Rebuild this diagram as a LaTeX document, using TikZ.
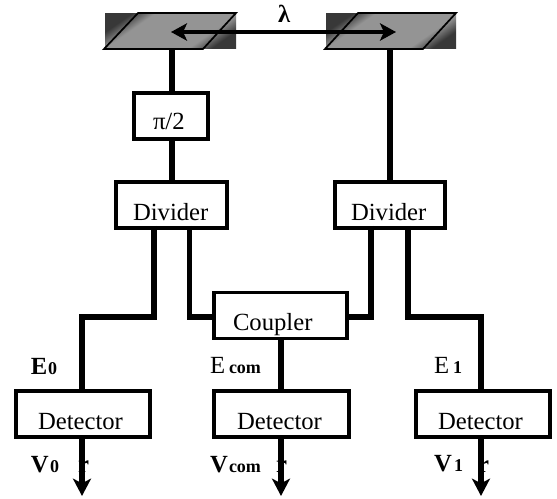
\documentclass[tikz,border=0pt]{standalone}
\usepackage{fontspec}
\setmainfont{Liberation Serif}
\usetikzlibrary{arrows.meta,calc}
\pgfdeclarehorizontalshading{mirrorshade}{100bp}{color(0bp)=(black!78); color(25bp)=(black!78); color(34bp)=(black!42); color(66bp)=(black!42); color(75bp)=(black!78); color(100bp)=(black!78)}
\begin{document}
\begin{tikzpicture}[x=0.75pt,y=-0.75pt,
  boxstyle/.style={draw=black,line width=2.9pt,fill=white,outer sep=0pt,inner sep=0pt,minimum height=34.5pt},
  wire/.style={draw=black,line width=3.9pt,line cap=butt,line join=miter},
  downarrow/.style={wire,-{Stealth[length=13pt,width=13.5pt,inset=3.5pt]}},
  biarrow/.style={draw=black,line width=3pt,{Stealth[length=12pt,width=13pt,inset=3pt]}-{Stealth[length=12pt,width=13pt,inset=3pt]}},
  mirrorback/.style={shading=mirrorshade,shading angle=-55},
  mirrorface/.style={draw=black,line width=1.3pt,line join=miter},
  boxlabel/.style={anchor=base west,inner sep=0pt,outer sep=0pt,font=\fontsize{18.5pt}{20pt}\selectfont},
  sig/.style={anchor=base west,inner sep=0pt,outer sep=0pt,font=\fontsize{18.5pt}{20pt}\selectfont},
  sigb/.style={anchor=base west,inner sep=0pt,outer sep=0pt,font=\bfseries\fontsize{18.5pt}{20pt}\selectfont},
  sub/.style={anchor=base west,inner sep=0pt,outer sep=0pt,font=\bfseries\fontsize{13.5pt}{15pt}\selectfont},
  stray/.style={anchor=base west,inner sep=0pt,outer sep=0pt,font=\bfseries\fontsize{18.5pt}{20pt}\selectfont}]
\useasboundingbox (0,0) rectangle (557,499);
\fill[white] (0,0) rectangle (557,499);
% mirrors
\shade[mirrorback] (105,14) rectangle (236,49);
\shade[mirrorback] (326,14) rectangle (456,49);
\node[inner sep=0pt,outer sep=0pt,minimum size=0pt] (mirrorA) at (172,49) {};
\node[inner sep=0pt,outer sep=0pt,minimum size=0pt] (mirrorB) at (390,49) {};
\node[inner sep=0pt,outer sep=0pt,minimum size=0pt] (lamA) at (171,32) {};
\node[inner sep=0pt,outer sep=0pt,minimum size=0pt] (lamB) at (396,32) {};
\draw[mirrorface] (104,49) -- (138,13) -- (236,13) -- (203,49) -- cycle;
\draw[mirrorface] (325,49) -- (358,13) -- (456,13) -- (423,49) -- cycle;
% boxes
\node[boxstyle,minimum width=55.5pt] (phase) at (171,116) {};
\node[boxstyle,minimum width=83pt] (divA) at (171.5,205) {};
\node[boxstyle,minimum width=83pt] (divB) at (390,205) {};
\node[boxstyle,minimum width=100pt] (coupler) at (280.5,315.5) {};
\node[boxstyle,minimum width=101pt] (detA) at (83,414) {};
\node[boxstyle,minimum width=101pt] (detC) at (281.5,414) {};
\node[boxstyle,minimum width=101pt] (detB) at (483,414) {};
% stray glyphs behind the output arrows
\node[stray] (strayA) at (78,472) {r};
\node[stray] (strayC) at (276,472) {r};
\node[stray] (strayB) at (478,472) {r};
% free ends
\coordinate (endA) at (82,496);
\coordinate (endC) at (281,496);
\coordinate (endB) at (481,496);
% connectors
\draw[wire] (mirrorA) -- (phase.north -| mirrorA);
\draw[wire] (phase.south -| mirrorA) -- (divA.north -| mirrorA);
\draw[wire] (mirrorB) -- (divB.north -| mirrorB);
\draw[wire] ($(divA.south)+(-17.5,-2)$) |- (82,317) -- (detA.north -| 82,0);
\draw[wire] ($(divA.south)+(18,-2)$) |- (coupler.west |- 0,317);
\draw[wire] ($(divB.south)+(-19,-2)$) |- (coupler.east |- 0,317);
\draw[wire] ($(divB.south)+(18,-2)$) |- (481,317) -- (detB.north -| 481,0);
\draw[wire] (coupler.south -| endC) -- (detC.north -| endC);
\draw[downarrow] (detA.south -| endA) -- (endA);
\draw[downarrow] (detC.south -| endC) -- (endC);
\draw[downarrow] (detB.south -| endB) -- (endB);
\draw[biarrow] (lamA) -- (lamB);
% labels
\node[sigb] (lambda) at (278,23) {λ};
\node[boxlabel] (phaseT) at (153,130) {π/2};
\node[boxlabel] (divAT) at (133,220) {Divider};
\node[boxlabel] (divBT) at (351,220) {Divider};
\node[boxlabel] (coupT) at (233,330) {Coupler};
\node[boxlabel] (detAT) at (38,429) {Detector};
\node[boxlabel] (detCT) at (237,429) {Detector};
\node[boxlabel] (detBT) at (438,429) {Detector};
\node[sigb] (e0) at (31,374) {E};
\node[sub] (e0s) at (48,374) {0};
\node[sig] (ec) at (210,373) {E};
\node[sub] (ecs) at (229,373) {com};
\node[sig] (e1) at (434,373) {E};
\node[sub] (e1s) at (453,373) {1};
\node[sigb] (v0) at (31,472) {V};
\node[sub] (v0s) at (50,472) {0};
\node[sigb] (vc) at (210,472) {V};
\node[sub] (vcs) at (229,472) {com};
\node[sigb] (v1) at (434,471) {V};
\node[sub] (v1s) at (454,471) {1};
\end{tikzpicture}
\end{document}
